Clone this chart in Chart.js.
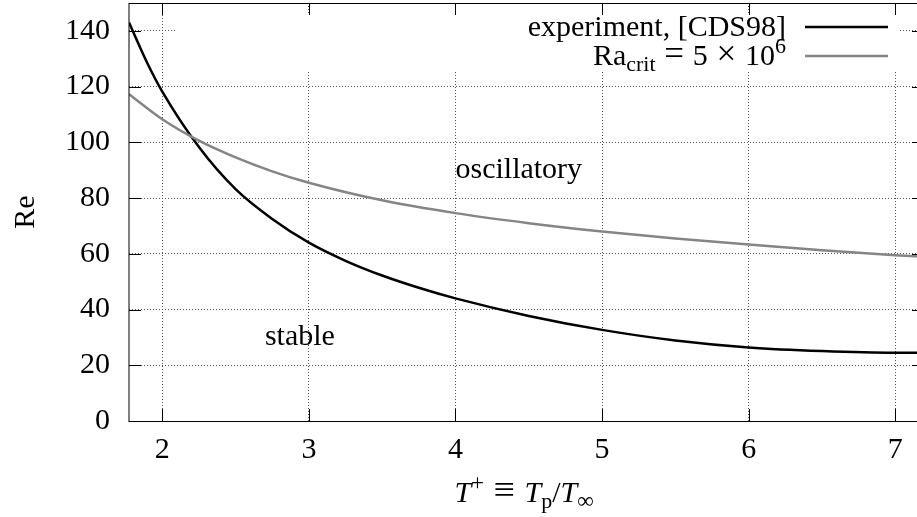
<!DOCTYPE html>
<html>
<head>
<meta charset="utf-8">
<script src="https://cdn.jsdelivr.net/npm/chart.js@4.4.1/dist/chart.umd.min.js"></script>
<style>
  html, body { margin: 0; padding: 0; background: #fff; overflow: hidden; }
  #wrap { width: 917px; height: 517px; overflow: hidden; }
</style>
</head>
<body>
<div id="wrap"><canvas id="chart" width="924" height="517"></canvas></div>
<script>
// experiment, [CDS98]
const tExp = [1.773, 1.9, 2.0, 2.25, 2.5, 2.75, 3.0, 3.25, 3.5, 3.75, 4.0, 4.5, 5.0, 5.5, 6.0, 6.5, 7.0, 7.2];
const reExp = [143, 128.2, 118.2, 98.3, 83.2, 72.5, 64, 57.5, 52.2, 47.8, 44, 37.7, 32.7, 28.9, 26.4, 25.1, 24.5, 24.5];

// Ra_crit = 5 x 10^6
const tRa = [1.773, 2.0, 2.25, 2.5, 2.75, 3.0, 3.5, 4.0, 4.5, 5.0, 5.5, 6.0, 6.5, 7.0, 7.2];
const reRa = [117.3, 108.3, 100.6, 94.6, 89.6, 85.5, 79.2, 74.6, 71.0, 68.0, 65.5, 63.3, 61.3, 59.5, 58.9];

const xTicks = [2, 3, 4, 5, 6, 7];
const yTicks = [0, 20, 40, 60, 80, 100, 120, 140];

// region labels (data coords)
const regionLabels = [
    { text: 'oscillatory', x: 4.0, y: 90 },
    { text: 'stable', x: 2.7, y: 30 }
];

const FONT = 'Liberation Serif';
const FS = 30;

function fontOf(p) {
    const size = Math.round(FS * (p.sz || 1));
    return (p.it ? 'italic ' : '') + size + 'px "' + FONT + '"';
}

function richWidth(ctx, parts) {
    let w = 0;
    parts.forEach((p) => {
        ctx.font = fontOf(p);
        w += ctx.measureText(p.t).width;
    });
    return w;
}

function drawRich(ctx, parts, x, y) {
    parts.forEach((p) => {
        ctx.font = fontOf(p);
        ctx.fillText(p.t, x, y + (p.dy || 0));
        x += ctx.measureText(p.t).width;
    });
}

const legendRows = [
    { parts: [{ t: 'experiment, [CDS98]' }], y: 27 },
    {
        parts: [
            { t: 'Ra' },
            { t: 'crit', sz: 0.72, dy: 6 },
            { t: ' = ', sz: 1.15 },
            { t: '5' },
            { t: ' \u00d7 ', sz: 1.15 },
            { t: '10' },
            { t: '6', sz: 0.72, dy: -12 }
        ],
        y: 56
    }
];

const xTitle = [
    { t: 'T', it: true },
    { t: '+', sz: 0.75, dy: -12 },
    { t: ' \u2261 ', sz: 1.25 },
    { t: 'T', it: true },
    { t: 'p', sz: 0.72, dy: 6 },
    { t: '/' },
    { t: 'T', it: true },
    { t: '\u221e', sz: 0.75, dy: 6 }
];

const decor = {
    id: 'decor',
    beforeDatasetsDraw(chart) {
        const ctx = chart.ctx;
        // opaque key box
        ctx.save();
        ctx.fillStyle = '#fff';
        ctx.fillRect(175, 15, 725, 57);
        ctx.restore();
    },
    afterDraw(chart) {
        const { ctx, chartArea: a, scales: { x, y } } = chart;
        ctx.save();

        // frame
        ctx.strokeStyle = '#000';
        ctx.lineWidth = 1;
        ctx.strokeRect(a.left, a.top + 0.5, a.right - a.left, a.bottom - a.top);

        // inward ticks
        ctx.beginPath();
        xTicks.forEach((v) => {
            const px = Math.round(x.getPixelForValue(v)) + 0.5;
            ctx.moveTo(px, a.bottom);
            ctx.lineTo(px, a.bottom - 12);
            ctx.moveTo(px, a.top);
            ctx.lineTo(px, a.top + 12);
        });
        yTicks.forEach((v) => {
            const py = Math.round(y.getPixelForValue(v)) + 0.5;
            ctx.moveTo(a.left, py);
            ctx.lineTo(a.left + 12, py);
            ctx.moveTo(a.right, py);
            ctx.lineTo(a.right - 12, py);
        });
        ctx.stroke();

        ctx.fillStyle = '#000';
        ctx.textBaseline = 'middle';
        ctx.textAlign = 'left';

        // region labels
        ctx.font = FS + 'px "' + FONT + '"';
        regionLabels.forEach((l) => {
            ctx.fillText(l.text, x.getPixelForValue(l.x), y.getPixelForValue(l.y));
        });

        // legend
        chart.data.datasets.forEach((ds, i) => {
            const row = legendRows[i];
            const w = richWidth(ctx, row.parts);
            ctx.fillStyle = '#000';
            ctx.textBaseline = 'alphabetic';
            drawRich(ctx, row.parts, 786 - w, row.y + 9);
            ctx.strokeStyle = ds.borderColor;
            ctx.lineWidth = ds.borderWidth;
            ctx.beginPath();
            ctx.moveTo(805, row.y);
            ctx.lineTo(888, row.y);
            ctx.stroke();
        });

        // axis titles
        ctx.fillStyle = '#000';
        ctx.textBaseline = 'alphabetic';
        const tw = richWidth(ctx, xTitle);
        drawRich(ctx, xTitle, 524 - tw / 2, 502);

        ctx.translate(34, (a.top + a.bottom) / 2);
        ctx.rotate(-Math.PI / 2);
        ctx.textAlign = 'center';
        ctx.font = FS + 'px "' + FONT + '"';
        ctx.fillText('Re', 0, 0);

        ctx.restore();
    }
};

function noPad(s) {
    s.paddingTop = 0;
    s.paddingBottom = 0;
    s.paddingLeft = 0;
    s.paddingRight = 0;
}

new Chart(document.getElementById('chart'), {
    type: 'scatter',
    data: {
        datasets: [
            {
                label: 'experiment, [CDS98]',
                data: tExp.map((t, i) => ({ x: t, y: reExp[i] })),
                showLine: true,
                borderColor: '#000',
                borderWidth: 2.5,
                pointRadius: 0,
                cubicInterpolationMode: 'monotone',
                order: 2
            },
            {
                label: 'Ra_crit = 5 x 10^6',
                data: tRa.map((t, i) => ({ x: t, y: reRa[i] })),
                showLine: true,
                borderColor: '#858585',
                borderWidth: 2.5,
                pointRadius: 0,
                cubicInterpolationMode: 'monotone',
                order: 1
            }
        ]
    },
    options: {
        responsive: false,
        animation: false,
        layout: { autoPadding: false, padding: { top: 3, left: 0, right: 0, bottom: 0 } },
        plugins: {
            legend: { display: false },
            tooltip: { enabled: false }
        },
        scales: {
            x: {
                type: 'linear',
                min: 1.773,
                max: 7.196,
                afterBuildTicks: (s) => { s.ticks = xTicks.map((v) => ({ value: v })); },
                afterFit: (s) => { s.height = 96; noPad(s); },
                grid: { color: '#555', lineWidth: 1, drawTicks: false },
                border: { display: false, dash: [1, 2] },
                ticks: {
                    color: '#000',
                    padding: 11,
                    font: { family: FONT, size: FS }
                }
            },
            y: {
                min: 0,
                max: 150,
                afterBuildTicks: (s) => { s.ticks = yTicks.map((v) => ({ value: v })); },
                afterFit: (s) => { s.width = 129; noPad(s); },
                grid: { color: '#555', lineWidth: 1, drawTicks: false },
                border: { display: false, dash: [1, 2] },
                ticks: {
                    color: '#000',
                    padding: 19,
                    font: { family: FONT, size: FS }
                }
            }
        }
    },
    plugins: [decor]
});
</script>
</body>
</html>
